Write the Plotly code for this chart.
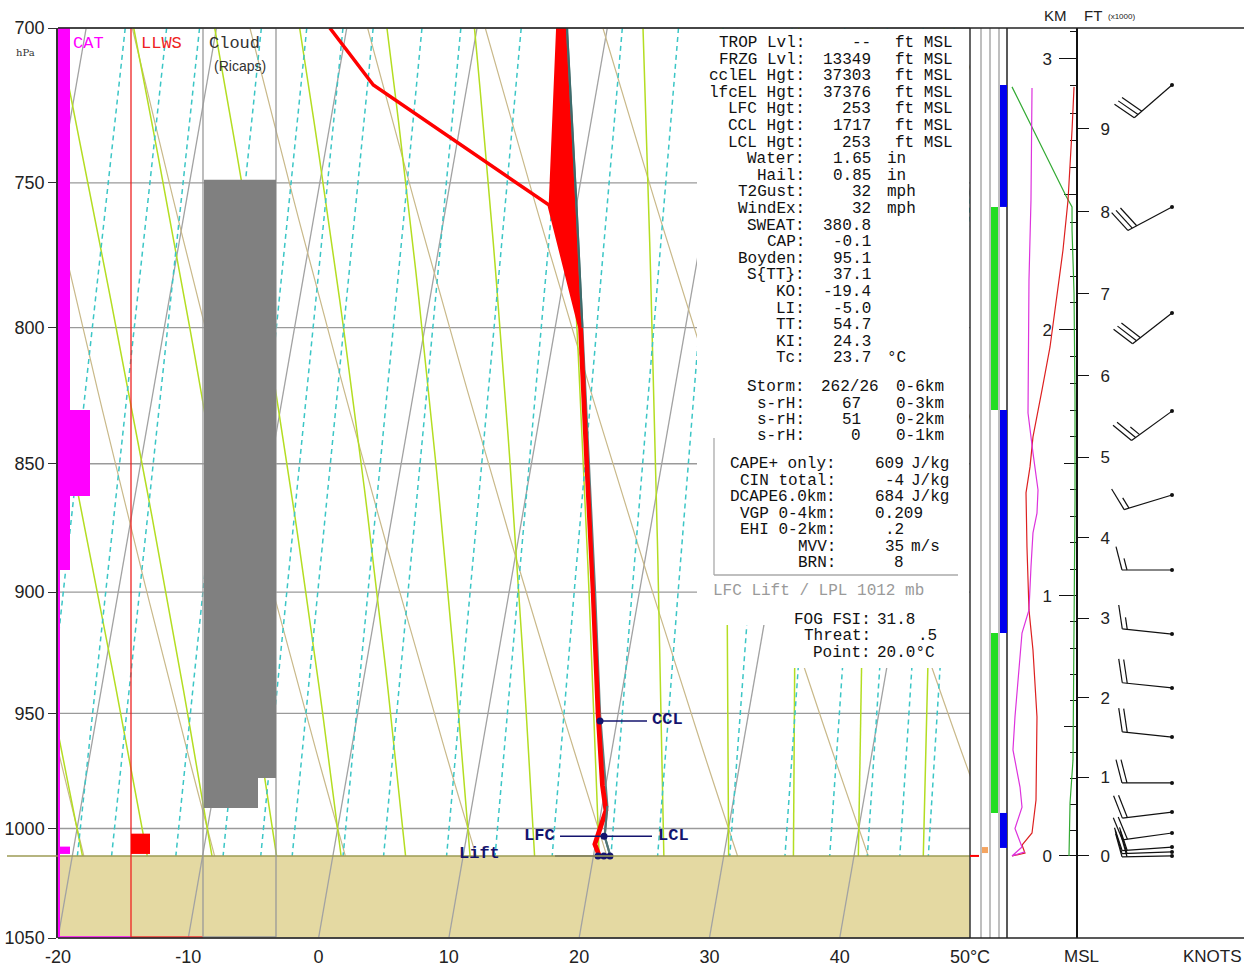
import numpy as np
import plotly.graph_objects as go

# ======================= DATA =======================
pressure_ticks = [700, 750, 800, 850, 900, 950, 1000, 1050]
temp_ticks = [-20, -10, 0, 10, 20, 30, 40, 50]
temp_tick_labels = ["-20", "-10", "0", "10", "20", "30", "40", "50°C"]

surface_p = 1012.3

isotherms_c = [-50, -40, -30, -20, -10, 0, 10, 20, 30, 40, 50]
dry_adiabats_c = [-30, -20, -10, 0, 10, 20, 30, 40, 50, 60, 70, 80, 90]
moist_adiabats_c = [-20, -15, -10, -5, 0, 5, 10, 15, 20, 25, 30, 35, 40, 45, 50]
mixing_ratios_gkg = [0.4, 0.6, 0.8, 1, 1.5, 2, 2.5, 3, 4, 5, 7, 9, 12, 16, 20, 28, 36,
                     44, 52, 60, 68]

# sounding (hPa, degC)
env_p = [700, 757.5, 800, 850, 900, 950, 981, 992, 1000, 1007, 1012.3]
env_t = [6.2, 8.0, 12.0, 14.3, 16.5, 18.5, 19.8, 20.4, 20.2, 20.0, 20.5]
dew_p = [700, 718, 757.5, 800, 850, 900, 950, 981, 992, 1000, 1007, 1012.3]
dew_t = [-11.3, -7.2, 7.9, 11.9, 14.2, 16.4, 18.4, 19.7, 20.3, 20.1, 19.9, 20.4]
parcel_p = [1012.3, 1003.5, 990, 950, 900, 850, 800, 757.5, 700]
parcel_t = [21.3, 20.6, 20.4, 18.6, 16.6, 14.4, 12.1, 10.0, 6.9]

ccl_p, ccl_t = 953.2, 18.7
lcl_p, lcl_t = 1003.5, 20.55
lift_t = [20.35, 20.8, 21.27]

# hazard columns (hPa)
cat_top = [700, 829.9, 1008.1]
cat_bot = [891.2, 862.3, 1011.4]
cat_level = ["light", "moderate", "light"]
llws_top = [1002.3]
llws_bot = [1011.4]
cloud_top = [749.0, 977.8]
cloud_bot = [977.8, 990.9]
cloud_cover = [1.0, 0.75]

# layer bars (hPa)
layer_top = [718.0, 758.1, 829.9, 916.6, 993.1]
layer_bot = [758.1, 829.9, 916.6, 993.1, 1008.7]
layer_kind = ["blue", "green", "blue", "green", "blue"]

# height scales
km_ticks = [0, 1, 2, 3]
km_minor = [round(0.1 * i, 1) for i in range(0, 32)]
km_half = [0.5, 1.5, 2.5]
ft_ticks = [0, 1, 2, 3, 4, 5, 6, 7, 8, 9]

# height-panel profiles (index 0-100, hPa)
green_p = [1012.3, 988.7, 970.0, 923.6, 863.8, 826.2, 787.7, 765.9, 758.1, 754.4, 718.6]
green_v = [88.4, 89.9, 94.2, 95.7, 97.1, 97.1, 95.7, 92.8, 92.8, 84.1, 5.8]
red_p = [718.6, 732.6, 755.8, 772.8, 783.2, 806.9, 822.5, 839.9, 851.2, 861.1, 882.1,
         895.2, 907.2, 923.6, 951.5, 987.4, 1002.0, 1007.4, 1011.0, 1012.3]
red_v = [95.7, 92.8, 87.0, 79.7, 73.9, 60.9, 49.3, 36.2, 31.9, 26.1, 27.5,
         29.0, 30.4, 36.2, 42.0, 40.6, 34.8, 20.3, 24.6, 5.8]
mag_p = [719.0, 755.8, 783.2, 831.0, 845.9, 860.0, 868.9, 876.6, 890.0, 907.2, 916.6,
         951.5, 965.6, 981.7, 990.5, 1000.0, 1008.3, 1012.3, 1010.5]
mag_v = [34.8, 33.3, 30.4, 29.0, 36.2, 43.5, 42.0, 36.2, 33.3, 30.4, 20.3,
         10.1, 7.2, 17.4, 20.3, 10.1, 20.3, 5.8, 24.6]

# winds
wind_p = [718.0, 758.1, 794.8, 830.3, 861.9, 891.2, 917.0, 939.3, 960.1, 979.9,
          992.7, 1002.0, 1008.3, 1010.5, 1012.3]
wind_dir = [229, 242, 232, 234, 253, 270, 276, 276, 276, 270, 263, 262, 266, 268, 269]
wind_spd = [30, 30, 30, 25, 15, 15, 15, 20, 20, 20, 20, 20, 20, 20, 20]

# text block
stats_main = [("TROP Lvl:", "--", "ft MSL"), ("FRZG Lvl:", "13349", "ft MSL"),
              ("cclEL Hgt:", "37303", "ft MSL"), ("lfcEL Hgt:", "37376", "ft MSL"),
              ("LFC Hgt:", "253", "ft MSL"), ("CCL Hgt:", "1717", "ft MSL"),
              ("LCL Hgt:", "253", "ft MSL"), ("Water:", "1.65", "in"), ("Hail:", "0.85", "in"),
              ("T2Gust:", "32", "mph"), ("WindEx:", "32", "mph"), ("SWEAT:", "380.8", ""),
              ("CAP:", "-0.1", ""), ("Boyden:", "95.1", ""), ("S{TT}:", "37.1", ""),
              ("KO:", "-19.4", ""), ("LI:", "-5.0", ""), ("TT:", "54.7", ""),
              ("KI:", "24.3", ""), ("Tc:", "23.7", "°C")]
stats_storm = [("Storm:", "262/26", "0-6km"), ("s-rH:", "67", "0-3km"),
               ("s-rH:", "51", "0-2km"), ("s-rH:", "0", "0-1km")]
stats_cape = [("CAPE+ only:", "609", "J/kg"), ("CIN total:", "-4", "J/kg"),
              ("DCAPE6.0km:", "684", "J/kg"), ("VGP 0-4km:", "0.209", ""),
              ("EHI 0-2km:", ".2", ""), ("MVV:", "35", "m/s"), ("BRN:", "8", "")]
lift_note = "LFC Lift / LPL 1012 mb"
stats_fog = [("FOG FSI:", "31.8"), ("Threat:", ".5"), ("Point:", "20.0°C")]

# ======================= GEOMETRY HELPERS =======================
W, H = 1244, 968
ML, MR, MT, MB = 58, 0, 28, 30
PW, PH = W - ML - MR, H - MT - MB
SKEW = 30.0
P_TOP, P_BOT = 700.0, 1050.0
LOG_SPAN = np.log10(P_BOT / P_TOP)
YRANGE = [np.log10(P_BOT), np.log10(P_TOP)]
PX_PER_DECADE = PH / LOG_SPAN


def px(x):  # page pixel -> paper x
    return (x - ML) / PW


def py(y):  # page pixel -> paper y
    return (H - MB - y) / PH


X_END = px(970)


def skew_x(t, p):
    return np.asarray(t, dtype=float) + SKEW * np.log(P_BOT / np.asarray(p, dtype=float))


def p2paper(p):
    return (np.log10(P_BOT) - np.log10(p)) / LOG_SPAN


def height_to_p(z_m):
    return surface_p * np.exp(-0.034164 * z_m / (297.5 - 3.0 * z_m / 1000.0))


def sat_vp(tc):
    return 6.112 * np.exp(17.67 * tc / (tc + 243.5))


def dTdp(T, p):
    es = sat_vp(T - 273.15)
    rs = 0.622 * es / (p - es)
    Rd, cp, Lv = 287.04, 1005.7, 2.501e6
    return (Rd * T + Lv * rs) / (cp + Lv * Lv * rs * 0.622 / (Rd * T * T)) / p


def integrate(T0, p0, targets):
    out, T, p = [], T0, p0
    for pt in targets:
        n = max(1, int(abs(pt - p) / 2))
        h = (pt - p) / n
        for _ in range(n):
            k1 = dTdp(T, p)
            k2 = dTdp(T + h * k1 / 2, p + h / 2)
            k3 = dTdp(T + h * k2 / 2, p + h / 2)
            k4 = dTdp(T + h * k3, p + h)
            T += h * (k1 + 2 * k2 + 2 * k3 + k4) / 6
            p += h
        out.append(T)
    return out


MONO = "Courier New, Liberation Mono, monospace"
SANS = "Arial, Liberation Sans, sans-serif"

fig = go.Figure()


def add_family(xs_list, ps_list, color, width, dash=None):
    X, Y = [], []
    for xs, ps in zip(xs_list, ps_list):
        X += list(xs) + [None]
        Y += list(ps) + [None]
    fig.add_trace(go.Scatter(x=X, y=Y, mode="lines", hoverinfo="skip", showlegend=False,
                             line=dict(color=color, width=width, dash=dash)))


# isotherms
add_family([skew_x([t, t], [P_TOP, P_BOT]) for t in isotherms_c],
           [[P_TOP, P_BOT] for _ in isotherms_c], "#a2a2a2", 1.3)

# dry adiabats
pp = np.geomspace(P_TOP, surface_p, 40)
add_family([skew_x((th + 273.15) * (pp / 1000.0) ** 0.2857 - 273.15, pp) for th in dry_adiabats_c],
           [pp for _ in dry_adiabats_c], "#c9b98a", 1.2)

# moist adiabats
up_targets = list(np.arange(1000, 699, -10.0))
mx, mp = [], []
for tw in moist_adiabats_c:
    tu = integrate(tw + 273.15, 1000.0, up_targets[1:])
    td = integrate(tw + 273.15, 1000.0, [1006.0, surface_p])
    ps = [surface_p, 1006.0] + up_targets
    ts = [td[1], td[0], tw + 273.15] + tu
    mx.append(skew_x(np.array(ts) - 273.15, ps))
    mp.append(ps)
add_family(mx, mp, "#b4dd22", 1.5)

# mixing ratio lines
pp2 = np.geomspace(P_TOP, surface_p, 20)
wx = []
for w in mixing_ratios_gkg:
    e = w * pp2 / (622.0 + w)
    a = np.log(e / 6.112)
    wx.append(skew_x(243.5 * a / (17.67 - a), pp2))
add_family(wx, [pp2 for _ in mixing_ratios_gkg], "#3cc6c6", 1.5, dash="5px,4px")

# positive area fill
env_top = [(p, t) for p, t in zip(env_p, env_t) if p <= 800]
par_top = [(p, t) for p, t in zip(parcel_p, parcel_t) if p <= 800]
poly_p = [p for p, _ in env_top] + [p for p, _ in par_top]
poly_t = [t for _, t in env_top] + [t for _, t in par_top]
fig.add_trace(go.Scatter(x=skew_x(poly_t, poly_p), y=poly_p, mode="lines", fill="toself",
                         fillcolor="#ff0000", line=dict(color="#ff0000", width=1),
                         hoverinfo="skip", showlegend=False))

# profiles
fig.add_trace(go.Scatter(x=skew_x(parcel_t, parcel_p), y=parcel_p, mode="lines",
                         line=dict(color="#5f7f7f", width=2.2), hoverinfo="skip", showlegend=False))
fig.add_trace(go.Scatter(x=skew_x(dew_t, dew_p), y=dew_p, mode="lines",
                         line=dict(color="#ff0000", width=3.5), hoverinfo="skip", showlegend=False))
fig.add_trace(go.Scatter(x=skew_x(env_t, env_p), y=env_p, mode="lines",
                         line=dict(color="#ff0000", width=3.5), hoverinfo="skip", showlegend=False))
fig.add_trace(go.Scatter(x=skew_x(parcel_t[:3], parcel_p[:3]), y=parcel_p[:3], mode="lines",
                         line=dict(color="#507575", width=2), hoverinfo="skip", showlegend=False))
fig.add_trace(go.Scatter(x=skew_x(parcel_t[-3:], parcel_p[-3:]), y=parcel_p[-3:], mode="lines",
                         line=dict(color="#3c6c6c", width=2), hoverinfo="skip", showlegend=False))

# level markers and connectors
NAVY = "#14146e"
sc = 70.0 / (X_END * PW)  # degC per pixel
ccl_x = float(skew_x(ccl_t, ccl_p))
lcl_x = float(skew_x(lcl_t, lcl_p))
lift_x = [float(v) for v in skew_x(lift_t, [surface_p] * 3)]
cx = [ccl_x, ccl_x + 47 * sc, None, lcl_x - 44 * sc, lcl_x + 48 * sc, None,
      lift_x[0] - 43 * sc, lift_x[0]]
cy = [ccl_p, ccl_p, None, lcl_p, lcl_p, None, surface_p, surface_p]
fig.add_trace(go.Scatter(x=cx, y=cy, mode="lines", line=dict(color=NAVY, width=1.5),
                         hoverinfo="skip", showlegend=False))
fig.add_trace(go.Scatter(x=[ccl_x, lcl_x] + lift_x, y=[ccl_p, lcl_p] + [surface_p] * 3,
                         mode="markers", marker=dict(color=NAVY, size=7),
                         hoverinfo="skip", showlegend=False))

# height-panel profiles
for vals, ps, col in [(green_v, green_p, "#33aa33"), (red_v, red_p, "#dd2020"),
                      (mag_v, mag_p, "#dd33dd")]:
    fig.add_trace(go.Scatter(x=vals, y=ps, xaxis="x2", yaxis="y", mode="lines",
                             line=dict(color=col, width=1.2), hoverinfo="skip", showlegend=False))

# wind barbs
STN = 95.0
SHAFT = 50.0
BARB_W = W - 1077


def off(p, dy):
    return p * 10 ** (dy / PX_PER_DECADE)


bx, by = [], []
for p, d, s in zip(wind_p, wind_dir, wind_spd):
    r = np.deg2rad(d)
    ux, uy = np.sin(r), -np.cos(r)
    qx, qy = -uy, ux
    bx += [STN, STN + SHAFT * ux, None]
    by += [p, off(p, SHAFT * uy), None]
    nfull, half = s // 10, (s % 10) >= 5
    pos = SHAFT
    for i in range(nfull + (1 if half else 0)):
        ln = 24.0 if i < nfull else 12.0
        if i >= nfull and nfull == 0:
            pos -= 5
        ax0, ay0 = ux * pos, uy * pos
        vx = ln * (0.97 * qx + 0.25 * ux)
        vy = ln * (0.97 * qy + 0.25 * uy)
        bx += [STN + ax0, STN + ax0 + vx, None]
        by += [off(p, ay0), off(p, ay0 + vy), None]
        pos -= 5
fig.add_trace(go.Scatter(x=bx, y=by, xaxis="x3", yaxis="y", mode="lines",
                         line=dict(color="#111", width=1.2), hoverinfo="skip", showlegend=False))
fig.add_trace(go.Scatter(x=[STN] * len(wind_p), y=wind_p, xaxis="x3", yaxis="y", mode="markers",
                         marker=dict(color="#111", size=4), hoverinfo="skip", showlegend=False))

# dummy traces for overlay axes
for ya in ["y3", "y4", "y5", "y6"]:
    fig.add_trace(go.Scatter(x=[None], y=[None], xaxis="x", yaxis=ya, showlegend=False,
                             hoverinfo="skip"))

# ======================= SHAPES =======================
shapes = []


def rect(x0, x1, y0, y1, fill, layer="above", line=None):
    shapes.append(dict(type="rect", xref="paper", yref="paper", x0=x0, x1=x1, y0=y0, y1=y1,
                       fillcolor=fill, layer=layer,
                       line=line if line else dict(width=0)))


def seg(x0, x1, y0, y1, color, width=1.5, layer="above"):
    shapes.append(dict(type="line", xref="paper", yref="paper", x0=x0, x1=x1, y0=y0, y1=y1,
                       line=dict(color=color, width=width), layer=layer))


# ground
rect(0, X_END, 0, p2paper(surface_p), "#e4d9a2", layer="below")
# isobars (main chart only)
for p in pressure_ticks:
    seg(0, X_END, p2paper(p), p2paper(p), "#9a9a9a", 1.3, layer="below")
seg(px(7), X_END, p2paper(surface_p), p2paper(surface_p), "#9d9b55", 1.5)

# white box behind the text
rect(px(697), px(969), py(625), py(29), "white")
rect(px(780), px(969), py(668), py(624), "white")
# CAPE box edges
seg(px(714), px(714), py(575), py(438), "#aaaaaa", 1.3)
seg(px(714), px(958), py(575), py(575), "#aaaaaa", 1.3)

# CAT
cat_w = {"light": 12, "moderate": 32}
for t, b, lv in zip(cat_top, cat_bot, cat_level):
    rect(px(58), px(58 + cat_w[lv]), p2paper(b), p2paper(t), "#ff00ff")
seg(px(59), px(59), py(937), p2paper(cat_bot[0]), "#ff00ff", 2)
seg(px(58), px(131), py(937), py(937), "#ff00ff", 1.5)
# LLWS
seg(px(131), px(131), py(937), py(28), "#ee2222", 1.3)
seg(px(131), px(203), py(937), py(937), "#ee3333", 1.5)
for t, b in zip(llws_top, llws_bot):
    rect(px(131), px(150), p2paper(b), p2paper(t), "#ff0000")
# Cloud
seg(px(203), px(203), py(937), py(28), "#999999", 1.3)
seg(px(276), px(276), py(937), py(28), "#999999", 1.3)
seg(px(203), px(276), py(937), py(937), "#999999", 1.3)
for t, b, c in zip(cloud_top, cloud_bot, cloud_cover):
    rect(px(204), px(204 + 72 * c), p2paper(b), p2paper(t), "#808080")

# right-hand columns
seg(px(970), px(970), 0, 1, "#333333", 1.5)
for xx in [981, 990, 999]:
    seg(px(xx), px(xx), 0, 1, "#aaaaaa", 1.5)
seg(px(1007), px(1007), 0, 1, "#222222", 1.5)
for t, b, k in zip(layer_top, layer_bot, layer_kind):
    if k == "green":
        rect(px(991), px(998), p2paper(b), p2paper(t), "#22dd22")
    else:
        rect(px(1000), px(1007), p2paper(b), p2paper(t), "#0000ee")
rect(px(982), px(988), p2paper(1011.0), p2paper(1008.3), "#f4a460")
seg(px(970), px(979), p2paper(surface_p), p2paper(surface_p), "#ff0000", 2)

# frame
seg(0, 1, 1, 1, "#222222", 1.5)
seg(0, 1, 0, 0, "#222222", 1.5)

# ======================= ANNOTATIONS =======================
anns = []
TXT = "#111111"


def nb(s):
    return s.replace(" ", "\u00a0")


def ann(x, y, text, anchor="left", size=16, color=TXT, family=MONO):
    anns.append(dict(x=px(x), y=py(y), xref="paper", yref="paper", text=nb(text),
                     showarrow=False, xanchor=anchor, yanchor="middle",
                     font=dict(size=size, color=color, family=family)))


for i, (lab, val, unit) in enumerate(stats_main):
    yy = 43 + i * 16.6
    ann(807, yy, lab, "right")
    ann(873, yy, val, "right")
    if unit:
        ann(893 if unit.startswith("ft") else 885, yy, unit, "left")
for i, (lab, val, unit) in enumerate(stats_storm):
    yy = 387 + i * 16.5
    ann(807, yy, lab, "right")
    if i == 0:
        ann(819, yy, val, "left")
    else:
        ann(863, yy, val, "right")
    ann(894, yy, unit, "left")
for i, (lab, val, unit) in enumerate(stats_cape):
    yy = 464 + i * 16.5
    ann(838, yy, lab, "right")
    if len(val) > 3:
        ann(873, yy, val, "left")
    else:
        ann(906, yy, val, "right")
    if unit:
        ann(909, yy, unit, "left")
ann(711, 591, lift_note, "left", color="#9a9a9a")
for i, (lab, val) in enumerate(stats_fog):
    yy = 620 + i * 16.3
    ann(873, yy, lab, "right")
    if len(val) < 3:
        ann(939, yy, val, "right")
    else:
        ann(875, yy, val, "left")

# column headers
ann(71, 43, "CAT", "left", size=17, color="#ff00ff")
ann(139, 43, "LLWS", "left", size=17, color="#ee2222")
ann(207, 43, "Cloud", "left", size=17, color="#333333")
ann(240, 66, "(Ricaps)", "center", size=14, color="#333333", family=SANS)
ann(25, 52, "hPa", "center", size=10, color="#333333", family="DejaVu Serif, serif")

# marker labels
for x, y, t, a in [(650, 719, "CCL", "left"), (656, 835, "LCL", "left"),
                   (557, 835, "LFC", "right"), (502, 853, "Lift", "right")]:
    ann(x, y, "<b>" + t + "</b>", a, size=17, color=NAVY)

# panel labels
ann(1055, 15, "KM", "center", size=15, color="#222", family=SANS)
ann(1093, 15, "FT", "center", size=15, color="#222", family=SANS)
ann(1106, 16, "(x1000)", "left", size=8, color="#222", family=SANS)
ann(1081, 957, "MSL", "center", size=17, color="#222", family=SANS)
ann(1212, 957, "KNOTS", "center", size=17, color="#222", family=SANS)

# ======================= LAYOUT =======================
km_p = [float(height_to_p(k * 1000.0)) for k in km_ticks]
km_minor_p = [float(height_to_p(k * 1000.0)) for k in km_minor]
km_half_p = [float(height_to_p(k * 1000.0)) for k in km_half]
ft_p = [float(height_to_p(f * 304.8)) for f in ft_ticks]
HPOS = px(1077)
tickfont = dict(size=18, family=SANS, color="#222")

fig.update_layout(
    width=W, height=H,
    margin=dict(l=ML, r=MR, t=MT, b=MB, pad=0, autoexpand=False), autosize=False,
    paper_bgcolor="white", plot_bgcolor="white", showlegend=False,
    shapes=shapes, annotations=anns,
    xaxis=dict(domain=[0, X_END], range=[-20, 50], tickmode="array", tickvals=temp_ticks,
               ticktext=temp_tick_labels, showgrid=False, zeroline=False, showline=False,
               ticks="", tickfont=tickfont, ticklabelstandoff=6, fixedrange=True,
               automargin=False),
    yaxis=dict(type="log", range=YRANGE, tickmode="array", tickvals=pressure_ticks,
               ticktext=[str(p) for p in pressure_ticks], showgrid=False,
               zeroline=False, showline=True, linecolor="#333", linewidth=1.5,
               ticks="outside", ticklen=8, tickcolor="#333", tickfont=tickfont, fixedrange=True,
               automargin=False),
    xaxis2=dict(domain=[px(1008), HPOS], range=[0, 100], visible=False, anchor="y",
                fixedrange=True, automargin=False),
    xaxis3=dict(domain=[HPOS, 1.0], range=[0, BARB_W], visible=False, anchor="y",
                fixedrange=True, automargin=False),
    yaxis3=dict(type="log", range=YRANGE, overlaying="y", anchor="free", position=HPOS,
                side="left", tickmode="array", tickvals=km_p, ticktext=[str(k) for k in km_ticks],
                ticks="outside", ticklen=17, tickwidth=1.3, tickcolor="#111", showline=True,
                linecolor="#111", linewidth=1.5, showgrid=False, zeroline=False,
                tickfont=dict(size=17, family=SANS, color="#222"), ticklabelstandoff=4,
                fixedrange=True, automargin=False),
    yaxis4=dict(type="log", range=YRANGE, overlaying="y", anchor="free", position=HPOS,
                side="right", tickmode="array", tickvals=ft_p, ticktext=[str(f) for f in ft_ticks],
                ticks="outside", ticklen=11, tickwidth=1.3, tickcolor="#111", showline=False,
                showgrid=False, zeroline=False, ticklabelstandoff=8,
                tickfont=dict(size=17, family=SANS, color="#222"), fixedrange=True,
                automargin=False),
    yaxis5=dict(type="log", range=YRANGE, overlaying="y", anchor="free", position=HPOS,
                side="left", tickmode="array", tickvals=km_minor_p, ticks="outside", ticklen=7,
                tickwidth=1.2, tickcolor="#111", showticklabels=False, showline=False,
                showgrid=False, zeroline=False, fixedrange=True, automargin=False),
    yaxis6=dict(type="log", range=YRANGE, overlaying="y", anchor="free", position=HPOS,
                side="left", tickmode="array", tickvals=km_half_p, ticks="outside", ticklen=13,
                tickwidth=1.2, tickcolor="#111", showticklabels=False, showline=False,
                showgrid=False, zeroline=False, fixedrange=True, automargin=False),
)

fig.write_html(
    "out.html",
    config={"displayModeBar": False},
    post_script="document.body.style.margin='0';document.body.style.overflow='hidden';",
)
